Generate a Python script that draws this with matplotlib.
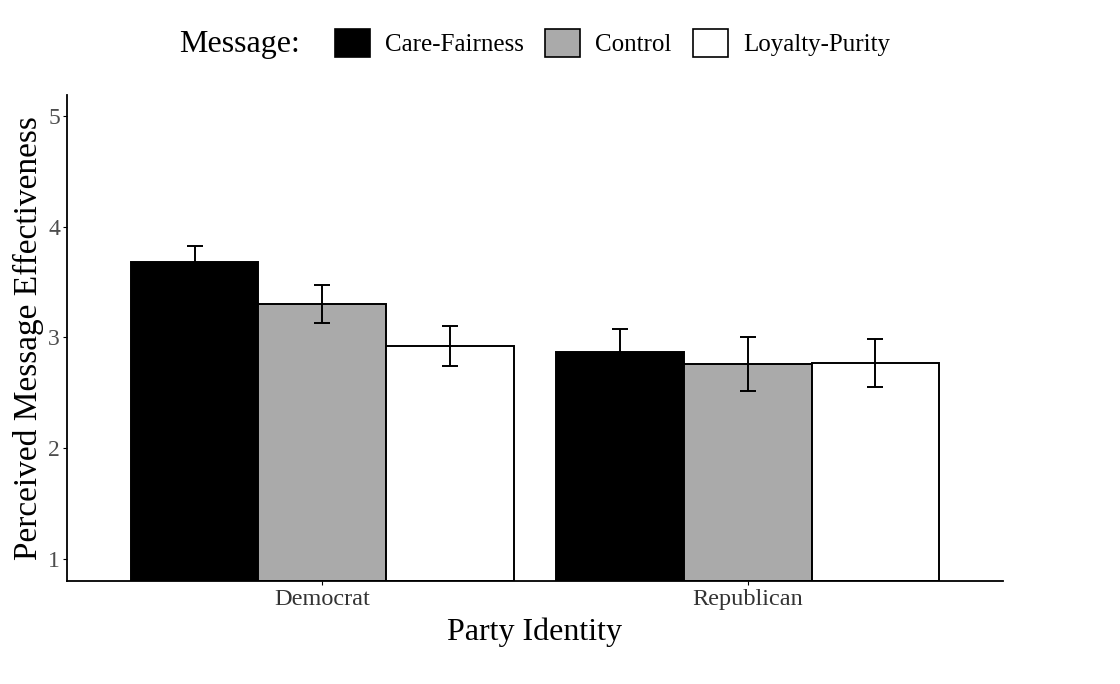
import numpy as np
import matplotlib.pyplot as plt
from matplotlib.patches import Patch

plt.rcParams['font.family'] = ['Liberation Serif', 'DejaVu Serif']

# 数据
parties = ["Democrat", "Republican"]
messages = ["Care-Fairness", "Control", "Loyalty-Purity"]
means = {
    "Care-Fairness": [3.68, 2.87],
    "Control": [3.30, 2.76],
    "Loyalty-Purity": [2.92, 2.77],
}
errs = {
    "Care-Fairness": [0.15, 0.21],
    "Control": [0.17, 0.24],
    "Loyalty-Purity": [0.18, 0.22],
}
colors = {"Care-Fairness": "black", "Control": "#aaaaaa", "Loyalty-Purity": "white"}

fig = plt.figure(figsize=(11.2, 6.84), dpi=100)
ax = fig.add_axes([0.0598, 0.1506, 0.8357, 0.7104])

x = np.arange(1, len(parties) + 1)
w = 0.3
for i, m in enumerate(messages):
    pos = x + (i - 1) * w
    ax.bar(pos, np.array(means[m]) - 0.8, bottom=0.8, width=w,
           color=colors[m], edgecolor="black", linewidth=1.4, zorder=2)
    ax.errorbar(pos, means[m], yerr=errs[m], fmt="none", ecolor="black",
                elinewidth=1.4, capsize=6, capthick=1.4, zorder=3)

ax.set_xlim(0.4, 2.6)
ax.set_ylim(0.8, 5.19)
ax.set_xticks(x)
ax.set_xticklabels(parties, fontsize=17.5, color="#333333")
ax.set_yticks([1, 2, 3, 4, 5])
ax.tick_params(axis="y", labelsize=17, labelcolor="#4d4d4d", length=3, pad=2)
ax.tick_params(axis="x", length=3, pad=3)
for s in ["top", "right"]:
    ax.spines[s].set_visible(False)
for s in ["left", "bottom"]:
    ax.spines[s].set_linewidth(1.3)
ax.set_xlabel("Party Identity", fontsize=23, labelpad=5)
ax.set_ylabel("Perceived Message Effectiveness", fontsize=24, labelpad=3)

# 图例
fig.text(0.16, 0.935, "Message:", fontsize=23, va="center", ha="left")
handles = [Patch(facecolor=colors[m], edgecolor="black", linewidth=1.2) for m in messages]
fig.legend(handles, messages, loc="center left", bbox_to_anchor=(0.279, 0.937),
           ncol=3, frameon=False, fontsize=18, handlelength=1.4, handleheight=1.35,
           columnspacing=0.85, handletextpad=0.6)

fig.savefig("out.png", dpi=100)
